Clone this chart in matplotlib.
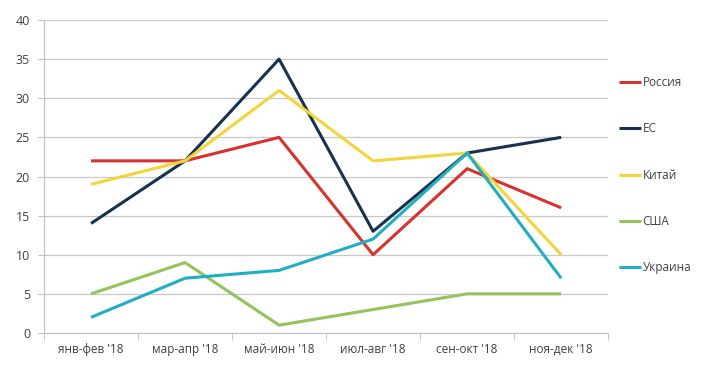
import numpy as np
import matplotlib.pyplot as plt
from matplotlib.ticker import FixedLocator

plt.rcParams['font.family'] = ['Open Sans', 'DejaVu Sans']

categories = ["янв-фев '18", "мар-апр '18", "май-июн '18", "июл-авг '18", "сен-окт '18", "ноя-дек '18"]
russia = [22, 22, 25, 10, 21, 16]
eu = [14, 22, 35, 13, 23, 25]
china = [19, 22, 31, 22, 23, 10]
usa = [5, 9, 1, 3, 5, 5]
ukraine = [2, 7, 8, 12, 23, 7]

series = [
    ('Россия', russia, '#d8312e'),
    ('ЕС', eu, '#17324d'),
    ('Китай', china, '#f3d53b'),
    ('США', usa, '#94c35c'),
    ('Украина', ukraine, '#20aec3'),
]

fig = plt.figure(figsize=(7.18, 3.79), dpi=100)
ax = fig.add_axes([0.0613, 0.1214, 0.7857, 0.8258])

x = np.arange(len(categories))
for name, vals, col in series:
    ax.plot(x, vals, color=col, linewidth=2.2, label=name, solid_capstyle='butt')

ax.set_xlim(-0.5, len(categories) - 0.5)
ax.set_ylim(0, 40)
ax.set_yticks(range(0, 41, 5))
ax.set_xticks(x)
ax.set_xticklabels(categories, fontsize=8.5, color='#404040')
ax.tick_params(axis='x', which='major', length=0, pad=7)
ax.xaxis.set_minor_locator(FixedLocator(np.arange(-0.5, len(categories), 1.0)))
ax.tick_params(axis='x', which='minor', length=5, color='#bfbfbf')
ax.tick_params(axis='y', length=4, color='#bfbfbf', labelsize=9, labelcolor='#404040', pad=6)

ax.grid(axis='y', color='#c8c8c8', linewidth=0.9)
ax.set_axisbelow(True)
for s in ['top', 'right']:
    ax.spines[s].set_visible(False)
for s in ['left', 'bottom']:
    ax.spines[s].set_color('#bfbfbf')

leg = ax.legend(loc='upper left', bbox_to_anchor=(1.01, 0.836), frameon=False,
                fontsize=8.5, handlelength=1.9, handletextpad=0.15,
                labelspacing=2.82, borderaxespad=0)
for t in leg.get_texts():
    t.set_color('#404040')

fig.savefig('out.png', dpi=100)
